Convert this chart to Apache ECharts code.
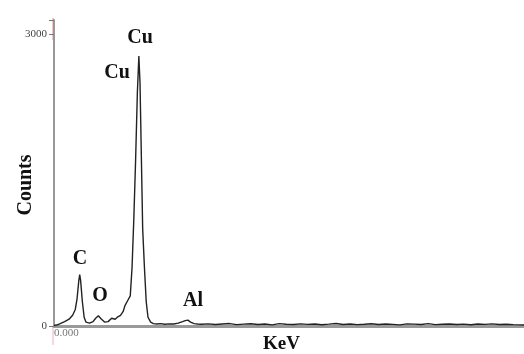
<!DOCTYPE html>
<html><head><meta charset="utf-8">
<script src="https://cdn.jsdelivr.net/npm/echarts@6/dist/echarts.min.js"></script>
<style>html,body{margin:0;padding:0;background:#fff}#c{width:524px;height:354px}</style>
</head><body><div id="c"></div>
<script>
// energy (keV) and counts
var keV = [0.00,0.03,0.07,0.12,0.17,0.21,0.24,0.26,0.28,0.29,0.30,0.32,0.34,0.36,0.40,0.44,0.47,0.50,0.53,0.57,0.61,0.65,0.69,0.72,0.75,0.78,0.80,0.83,0.86,0.88,0.90,0.92,0.94,0.957,0.97,0.99,1.00,1.02,1.04,1.06,1.09,1.12,1.16,1.20,1.25,1.30,1.35,1.40,1.45,1.48,1.51,1.54,1.58,1.62,
  1.66,1.74,1.82,1.90,1.98,2.06,2.14,2.22,2.30,2.38,2.46,2.54,2.62,2.70,2.78,2.86,2.94,3.02,3.10,3.18,3.26,3.34,3.42,3.50,3.58,3.66,3.74,3.82,3.90,3.98,4.06,4.14,4.22,4.30,4.38,4.46,4.54,4.62,4.70,4.78,4.86,4.94,5.02,5.10,5.18,5.26,5.30];
var counts = [5,10,25,45,70,110,170,280,470,530,470,250,90,40,30,45,80,105,75,40,45,80,70,95,110,150,210,260,310,600,1100,1700,2400,2780,2500,1500,1000,600,250,90,40,25,20,25,18,22,20,30,45,55,60,40,25,20,
  18,22,15,20,25,14,19,23,16,21,12,24,18,15,22,17,20,13,19,26,16,21,14,18,23,15,20,17,12,22,19,16,24,14,18,21,15,19,13,20,17,22,15,18,14,12,10];
var yTicks = [0, 3000];
var peakLabels = [
  {text:'Cu', x:140, y:38},
  {text:'Cu', x:117, y:73},
  {text:'C',  x:80,  y:259},
  {text:'O',  x:100, y:296},
  {text:'Al', x:193, y:301}
];

var data = keV.map(function(k,i){return [k, counts[i]];});
var chart = echarts.init(document.getElementById('c'));
var serif = '"Liberation Serif","DejaVu Serif",serif';
var graphics = peakLabels.map(function(p){
  return {type:'text', x:p.x, y:p.y, style:{text:p.text, font:'bold 20px '+serif, fill:'#111', textAlign:'center', textVerticalAlign:'middle'}};
});
graphics.push({type:'line', shape:{x1:53,y1:327,x2:53,y2:345}, style:{stroke:'#e8b4b8', lineWidth:1}});
graphics.push({type:'line', shape:{x1:53,y1:18,x2:53,y2:40}, style:{stroke:'#e8b4b8', lineWidth:1.5}});
chart.setOption({
  animation:false,
  grid:{left:54, right:0, top:20, bottom:28, containLabel:false, outerBoundsMode:'none'},
  xAxis:{type:'value', min:0, max:5.3, interval:1,
    name:'KeV', nameLocation:'middle', nameGap:9, nameMoveOverlap:false,
    nameTextStyle:{fontFamily:serif, fontWeight:'bold', fontSize:19, color:'#111', padding:[0,15,0,0]},
    axisLine:{show:true, lineStyle:{color:'#999', width:3}},
    axisTick:{show:false}, splitLine:{show:false},
    axisLabel:{margin:2, align:'left', fontFamily:serif, fontSize:11, color:'#777',
      formatter:function(v){return v===0?'0.000':'';}}
  },
  yAxis:{type:'value', min:0, max:3150, interval:3000,
    name:'Counts', nameLocation:'middle', nameGap:18, nameRotate:90, nameMoveOverlap:false,
    nameTextStyle:{fontFamily:serif, fontWeight:'bold', fontSize:20, color:'#111', padding:[0,24,0,0]},
    axisLine:{show:true, lineStyle:{color:'#999', width:2}},
    axisTick:{show:true, length:5, lineStyle:{color:'#777'}},
    splitLine:{show:false},
    axisLabel:{margin:7, fontFamily:serif, fontSize:11, color:'#444',
      formatter:function(v){return yTicks.indexOf(v)>=0?String(v):'';}}
  },
  series:[{type:'line', data:data, showSymbol:false, symbol:'none',
    lineStyle:{color:'#222', width:1.4}}],
  graphic:graphics
});
</script></body></html>
